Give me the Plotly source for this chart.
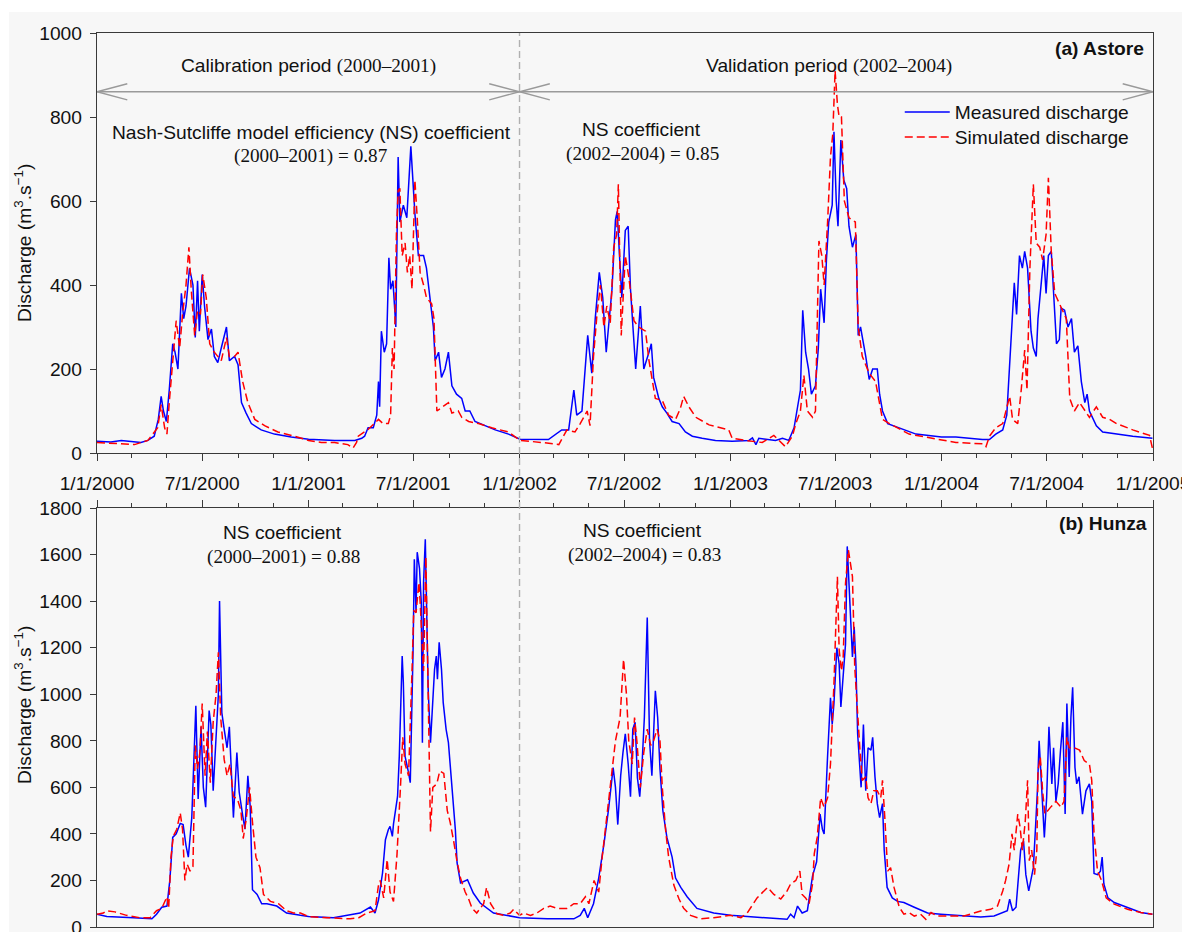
import pandas as pd
import plotly.graph_objects as go

# ---------------- data (day offset from 1/1/2000, discharge m3/s) ----------------
astore_measured = [
    (0, 28), (24, 26), (42, 30), (65, 27), (76, 25), (88, 30), (99, 40), (106, 80), (111, 135), (115, 100),
    (120, 75), (125, 150), (131, 260), (135, 240), (140, 200), (146, 380), (150, 320), (154, 350), (160, 440),
    (166, 400), (170, 275), (174, 410), (177, 290), (182, 425), (186, 350), (192, 270), (198, 295), (203, 230),
    (209, 215), (215, 250), (224, 300), (229, 220), (238, 230), (244, 210), (250, 120), (258, 95), (267, 70),
    (284, 55), (307, 45), (336, 38), (366, 33), (411, 30), (446, 30), (458, 35), (463, 40), (469, 60), (478, 60),
    (484, 90), (487, 170), (489, 110), (492, 290), (497, 240), (501, 260), (505, 465), (508, 390), (512, 410),
    (517, 300), (521, 705), (524, 550), (530, 590), (536, 560), (543, 730), (550, 570), (556, 470), (565, 470),
    (570, 440), (576, 370), (582, 300), (585, 220), (591, 240), (596, 180), (602, 200), (608, 240), (614, 160),
    (622, 140), (631, 130), (637, 100), (645, 100), (654, 75), (671, 65), (689, 55), (712, 45), (732, 33),
    (781, 32), (793, 45), (804, 55), (816, 55), (825, 150), (830, 90), (839, 100), (849, 280), (856, 190),
    (862, 320), (869, 430), (875, 370), (881, 240), (885, 300), (891, 390), (897, 555), (900, 575), (904, 470),
    (908, 370), (914, 530), (919, 540), (923, 390), (932, 200), (940, 350), (946, 200), (955, 240), (959, 260),
    (963, 180), (972, 130), (978, 110), (986, 95), (995, 75), (1007, 70), (1018, 50), (1030, 40), (1047, 35),
    (1070, 30), (1099, 28), (1128, 30), (1134, 36), (1140, 20), (1145, 35), (1174, 30), (1186, 35), (1197, 30),
    (1206, 60), (1212, 110), (1217, 150), (1221, 340), (1226, 240), (1231, 200), (1236, 140), (1243, 160),
    (1248, 250), (1252, 390), (1258, 310), (1262, 460), (1266, 550), (1272, 590), (1275, 765), (1279, 600),
    (1282, 540), (1287, 745), (1292, 650), (1297, 630), (1301, 540), (1307, 490), (1313, 520), (1317, 280),
    (1321, 300), (1330, 230), (1336, 175), (1342, 200), (1350, 200), (1354, 140), (1359, 100), (1368, 70),
    (1388, 60), (1417, 45), (1461, 38), (1486, 38), (1532, 32), (1544, 32), (1555, 45), (1567, 55), (1574, 90),
    (1579, 220), (1583, 300), (1587, 405), (1591, 330), (1596, 470), (1601, 440), (1605, 480), (1610, 440),
    (1616, 290), (1620, 250), (1625, 230), (1628, 320), (1634, 420), (1638, 470), (1642, 380), (1646, 470),
    (1651, 480), (1657, 350), (1660, 260), (1665, 270), (1668, 345), (1674, 340), (1680, 300), (1686, 320),
    (1691, 240), (1697, 255), (1703, 170), (1709, 120), (1713, 140), (1717, 100), (1729, 65), (1740, 50),
    (1764, 45), (1792, 40), (1826, 35),
]

astore_simulated = [
    (0, 25), (42, 22), (65, 20), (76, 25), (88, 30), (105, 60), (111, 115), (117, 60), (121, 45), (125, 120),
    (131, 220), (137, 315), (143, 250), (148, 330), (154, 400), (159, 490), (163, 390), (169, 280), (174, 340),
    (179, 330), (183, 425), (189, 370), (195, 260), (203, 240), (215, 220), (224, 275), (229, 230), (238, 230),
    (244, 240), (252, 170), (261, 120), (273, 80), (290, 65), (313, 50), (342, 40), (366, 30), (388, 25),
    (411, 25), (434, 20), (443, 12), (449, 25), (452, 40), (469, 56), (487, 80), (495, 70), (504, 70), (508, 90),
    (511, 250), (514, 200), (518, 520), (521, 625), (524, 630), (528, 470), (533, 500), (537, 430), (541, 470),
    (545, 390), (550, 650), (554, 560), (559, 430), (565, 400), (570, 370), (579, 355), (583, 320), (588, 100),
    (593, 105), (602, 115), (608, 120), (614, 95), (625, 100), (631, 85), (643, 75), (660, 70), (683, 60),
    (712, 50), (732, 30), (770, 25), (799, 20), (813, 55), (827, 50), (836, 70), (848, 100), (853, 65),
    (859, 230), (865, 330), (871, 400), (877, 300), (882, 350), (888, 310), (894, 490), (899, 520), (902, 640),
    (907, 280), (914, 470), (920, 420), (929, 315), (937, 300), (949, 290), (955, 220), (960, 180), (966, 130),
    (978, 125), (989, 90), (1001, 80), (1009, 105), (1015, 135), (1024, 110), (1036, 85), (1059, 67),
    (1093, 55), (1099, 35), (1122, 30), (1151, 25), (1171, 42), (1186, 20), (1191, 15), (1203, 40), (1209, 70),
    (1217, 100), (1223, 185), (1229, 100), (1238, 85), (1243, 100), (1249, 505), (1254, 470), (1258, 400),
    (1264, 550), (1269, 705), (1273, 760), (1277, 910), (1281, 830), (1284, 800), (1288, 800), (1293, 600),
    (1301, 560), (1312, 550), (1317, 300), (1324, 230), (1336, 190), (1347, 170), (1359, 80), (1371, 70),
    (1405, 45), (1461, 30), (1486, 25), (1532, 22), (1538, 15), (1544, 40), (1555, 60), (1567, 70), (1579, 135),
    (1584, 80), (1593, 70), (1599, 150), (1605, 245), (1609, 150), (1614, 440), (1620, 640), (1625, 500),
    (1631, 490), (1636, 460), (1642, 520), (1646, 655), (1651, 480), (1657, 380), (1662, 365), (1677, 320),
    (1683, 130), (1691, 100), (1700, 120), (1709, 100), (1717, 85), (1729, 110), (1740, 85), (1752, 80),
    (1764, 70), (1792, 55), (1821, 42), (1827, 5),
]

hunza_measured = [
    (0, 55), (17, 45), (63, 40), (95, 35), (103, 55), (112, 85), (121, 90), (126, 200), (131, 385), (137, 400),
    (144, 445), (149, 440), (154, 350), (158, 300), (164, 470), (168, 800), (171, 950), (175, 550), (180, 860),
    (184, 600), (188, 515), (194, 930), (197, 870), (201, 585), (206, 850), (210, 1000), (212, 1400), (216, 920),
    (220, 850), (225, 770), (229, 860), (233, 650), (236, 470), (242, 750), (246, 580), (252, 480), (256, 420),
    (261, 650), (265, 520), (269, 160), (277, 140), (285, 100), (294, 100), (311, 90), (328, 60), (352, 50),
    (366, 45), (409, 40), (455, 60), (473, 86), (481, 60), (487, 116), (494, 232), (499, 375), (504, 418),
    (507, 432), (511, 389), (513, 443), (520, 561), (523, 733), (528, 1164), (530, 1050), (533, 733), (539, 663),
    (542, 620), (547, 1207), (549, 1580), (552, 1352), (554, 1610), (558, 1540), (561, 1395), (563, 792),
    (565, 1481), (568, 1666), (571, 1352), (573, 1020), (577, 792), (582, 1020), (584, 1107), (587, 1164),
    (589, 1064), (592, 1223), (596, 1107), (599, 964), (604, 849), (608, 792), (611, 706), (617, 534),
    (620, 418), (623, 275), (629, 189), (641, 203), (651, 146), (663, 103), (686, 60), (731, 40), (779, 35),
    (825, 35), (836, 50), (843, 80), (849, 40), (859, 100), (868, 210), (877, 355), (885, 505), (893, 685),
    (897, 600), (901, 440), (906, 650), (910, 750), (914, 830), (919, 700), (923, 560), (927, 850), (931, 880),
    (935, 640), (939, 560), (943, 700), (947, 900), (952, 1330), (956, 800), (960, 650), (966, 1015), (970, 900),
    (974, 680), (979, 500), (986, 385), (995, 300), (1001, 210), (1010, 170), (1021, 130), (1038, 80),
    (1067, 60), (1096, 50), (1125, 45), (1154, 40), (1183, 35), (1194, 33), (1200, 55), (1206, 40), (1212, 90),
    (1220, 60), (1229, 70), (1238, 220), (1245, 280), (1251, 485), (1255, 420), (1258, 400), (1264, 735),
    (1269, 985), (1272, 870), (1275, 960), (1280, 1200), (1284, 1130), (1287, 945), (1291, 1100), (1295, 1215),
    (1298, 1635), (1301, 1475), (1304, 1300), (1307, 1160), (1310, 1290), (1313, 1130), (1316, 830), (1320, 670),
    (1322, 600), (1326, 870), (1330, 585), (1334, 770), (1339, 760), (1342, 815), (1346, 645), (1350, 530),
    (1354, 470), (1359, 530), (1362, 330), (1367, 170), (1376, 125), (1385, 110), (1396, 105), (1414, 85),
    (1437, 60), (1460, 55), (1500, 47), (1529, 43), (1552, 47), (1564, 60), (1575, 70), (1579, 120), (1584, 70),
    (1590, 85), (1594, 210), (1598, 330), (1603, 370), (1607, 225), (1612, 155), (1616, 210), (1620, 255),
    (1624, 440), (1627, 585), (1630, 800), (1634, 615), (1639, 385), (1643, 555), (1647, 860), (1652, 615),
    (1655, 770), (1659, 540), (1663, 615), (1667, 760), (1671, 880), (1675, 485), (1678, 960), (1682, 645),
    (1685, 900), (1688, 1030), (1692, 685), (1695, 615), (1699, 645), (1705, 485), (1711, 585), (1717, 615),
    (1721, 540), (1725, 230), (1731, 225), (1736, 240), (1739, 300), (1742, 185), (1749, 125), (1760, 105),
    (1783, 85), (1806, 62), (1826, 55),
]

hunza_simulated = [
    (0, 55), (11, 60), (17, 70), (31, 65), (51, 50), (74, 40), (92, 40), (103, 70), (112, 80), (121, 130),
    (124, 80), (128, 300), (132, 390), (138, 420), (144, 490), (148, 420), (152, 200), (156, 270), (161, 240),
    (166, 260), (170, 780), (174, 680), (178, 750), (182, 960), (187, 650), (191, 840), (196, 620), (201, 880),
    (206, 1000), (210, 1180), (214, 900), (220, 720), (225, 650), (230, 700), (236, 560), (243, 550), (249, 500),
    (253, 380), (258, 460), (264, 600), (269, 450), (275, 300), (282, 255), (288, 140), (300, 110), (314, 100),
    (328, 70), (340, 60), (352, 60), (366, 45), (398, 40), (438, 35), (453, 40), (467, 60), (481, 70), (487, 180),
    (490, 200), (496, 125), (502, 290), (507, 150), (513, 110), (519, 310), (525, 600), (529, 815), (533, 700),
    (539, 650), (545, 1100), (548, 1360), (552, 1350), (557, 1480), (559, 1400), (565, 1100), (569, 1590),
    (572, 1100), (577, 410), (581, 600), (588, 615), (593, 670), (600, 660), (606, 500), (611, 450), (617, 370),
    (623, 280), (629, 210), (637, 150), (643, 120), (649, 80), (657, 60), (669, 100), (674, 170), (681, 100),
    (692, 57), (704, 50), (715, 60), (721, 76), (731, 50), (738, 60), (750, 50), (761, 60), (773, 80), (784, 90),
    (796, 80), (813, 80), (825, 100), (836, 100), (845, 130), (851, 100), (860, 200), (868, 150), (874, 300),
    (883, 500), (891, 650), (897, 800), (905, 900), (911, 1150), (916, 1000), (920, 800), (926, 700), (930, 900),
    (934, 800), (940, 600), (946, 750), (952, 850), (958, 780), (963, 800), (969, 850), (974, 800), (978, 600),
    (984, 410), (989, 300), (998, 180), (1007, 120), (1015, 80), (1027, 50), (1044, 35), (1067, 40), (1096, 50),
    (1114, 40), (1125, 60), (1142, 125), (1160, 170), (1171, 140), (1183, 120), (1194, 155), (1200, 185),
    (1209, 200), (1216, 240), (1220, 140), (1226, 125), (1232, 100), (1238, 185), (1241, 315), (1246, 385),
    (1252, 555), (1258, 515), (1264, 555), (1269, 700), (1275, 1045), (1278, 1330), (1281, 1505), (1284, 1190),
    (1288, 1100), (1291, 1160), (1295, 1475), (1300, 1620), (1304, 1560), (1307, 1505), (1311, 1115),
    (1316, 900), (1320, 760), (1324, 630), (1330, 645), (1334, 555), (1339, 530), (1344, 585), (1350, 585),
    (1356, 555), (1359, 630), (1363, 470), (1368, 240), (1373, 255), (1379, 170), (1388, 85), (1396, 55),
    (1405, 62), (1414, 47), (1425, 55), (1434, 33), (1443, 62), (1454, 47), (1500, 47), (1529, 69), (1546, 76),
    (1558, 90), (1567, 155), (1572, 200), (1578, 270), (1583, 400), (1587, 330), (1593, 485), (1597, 430),
    (1601, 330), (1606, 455), (1610, 630), (1613, 285), (1617, 330), (1622, 225), (1626, 330), (1628, 670),
    (1632, 730), (1636, 585), (1640, 485), (1650, 515), (1659, 540), (1668, 515), (1673, 540), (1678, 815),
    (1682, 770), (1691, 770), (1700, 760), (1708, 715), (1717, 700), (1721, 630), (1725, 400), (1731, 240),
    (1738, 200), (1746, 125), (1760, 98), (1783, 76), (1806, 62), (1826, 55),
]

START = pd.Timestamp("2000-01-01")
SPLIT = "2002-01-01"
END = "2005-01-01"
period_arrow_level = 860


def series(pairs):
    days = [p[0] for p in pairs]
    q = [p[1] for p in pairs]
    dates = START + pd.to_timedelta(days, unit="D")
    return dates, q


# ---------------- figure geometry ----------------
# The photographed page comes out ~1.1% smaller than laid out, so the figure is laid out
# slightly larger (K) so that the photographed result lines up with the 1182x932 target.
K = 1.0 / 0.989
TW, TH = 1182, 932                  # target picture size
W, H = round(TW * K), round(TH * K)
L, T = 96 * K, 33 * K
R = W - 1151 * K
B = H - 927 * K
PW, PH = W - L - R, H - T - B


def fx(px):
    """target picture x pixel -> paper fraction"""
    return (px * K - L) / PW


def fy(py):
    """target picture y pixel -> paper fraction"""
    return (H - B - py * K) / PH


def s(v):
    return v * K


top_dom = [fy(453), 1.0]
bot_dom = [0.0, fy(508)]

SANS = "Liberation Sans, Arial, sans-serif"
SERIF = "Liberation Serif"
AXC = "#3a3a3a"
TXT = "#111111"
BLUE = "#0000ff"
RED = "#ff0000"
DASH = "8px,4px"
BG = "#f7f7f7"
FS = s(19)

fig = go.Figure()

d, q = series(astore_measured)
fig.add_trace(go.Scatter(x=d, y=q, mode="lines", name="Measured discharge", legend="legend",
                         line=dict(color=BLUE, width=1.5), xaxis="x", yaxis="y"))
d, q = series(astore_simulated)
fig.add_trace(go.Scatter(x=d, y=q, mode="lines", name="Simulated discharge", legend="legend2",
                         line=dict(color=RED, width=1.5, dash=DASH), xaxis="x", yaxis="y"))
d, q = series(hunza_measured)
fig.add_trace(go.Scatter(x=d, y=q, mode="lines", name="Measured discharge", showlegend=False,
                         line=dict(color=BLUE, width=1.5), xaxis="x2", yaxis="y2"))
d, q = series(hunza_simulated)
fig.add_trace(go.Scatter(x=d, y=q, mode="lines", name="Simulated discharge", showlegend=False,
                         line=dict(color=RED, width=1.5, dash=DASH), xaxis="x2", yaxis="y2"))

xcommon = dict(
    type="date", range=["2000-01-01", END], dtick="M6", tick0="2000-01-01",
    tickformat="%-m/%-d/%Y", ticks="outside", ticklen=s(7), tickwidth=1, tickcolor=AXC,
    showline=True, linecolor=AXC, linewidth=1.2, mirror=True, showgrid=False, zeroline=False,
    ticklabeloverflow="allow",
    tickfont=dict(family=SANS, size=FS, color=TXT),
    minor=dict(dtick="M2", tick0="2000-01-01", ticks="outside", ticklen=s(4), tickcolor=AXC, showgrid=False),
)
ycommon = dict(
    ticks="outside", ticklen=s(6), tickwidth=1, tickcolor=AXC, showline=True, linecolor=AXC,
    linewidth=1.2, mirror=True, showgrid=False, zeroline=False, ticklabelstandoff=round(s(4)),
    ticklabeloverflow="allow",
    tickfont=dict(family=SANS, size=FS, color=TXT),
)

legend_common = dict(xanchor="left", yanchor="top", bgcolor="rgba(0,0,0,0)",
                     font=dict(family=SANS, size=FS, color=TXT), itemwidth=45, tracegroupgap=0)

fig.update_layout(
    width=W, height=H,
    margin=dict(l=L, r=R, t=T, b=B, pad=0),
    paper_bgcolor=BG, plot_bgcolor=BG,
    xaxis=dict(xcommon, domain=[0, 1], anchor="y", ticklabelstandoff=round(s(6))),
    xaxis2=dict(xcommon, domain=[0, 1], anchor="y2", side="top", showticklabels=False, matches="x"),
    yaxis=dict(ycommon, domain=top_dom, range=[0, 1000], dtick=200, anchor="x"),
    yaxis2=dict(ycommon, domain=bot_dom, range=[0, 1800], dtick=200, anchor="x2"),
    showlegend=True,
    legend=dict(legend_common, x=fx(898), y=fy(93)),
    legend2=dict(legend_common, x=fx(898), y=fy(118)),
)

shapes = []
# white page strips above / left of the grey panel
shapes.append(dict(type="rect", xref="paper", yref="paper", x0=-0.2, x1=1.2,
                   y0=fy(12), y1=1.2, fillcolor="white", line=dict(width=0), layer="below"))
shapes.append(dict(type="rect", xref="paper", yref="paper", x0=-0.2, x1=fx(8),
                   y0=-0.2, y1=1.2, fillcolor="white", line=dict(width=0), layer="below"))
# split line between calibration and validation
shapes.append(dict(type="line", xref="x", yref="paper", x0=SPLIT, x1=SPLIT, y0=0, y1=1,
                   line=dict(color="#b0b0b0", width=1.4, dash="7px,4px")))
# period arrows
ARC = "#9a9a9a"
for a, b in [("2000-01-01", SPLIT), (SPLIT, END)]:
    shapes.append(dict(type="line", xref="x", yref="y", x0=a, x1=b,
                       y0=period_arrow_level, y1=period_arrow_level, line=dict(color=ARC, width=1.4)))
hl, hw = s(30), s(8)
for anchor, sign in [("2000-01-01", 1), (SPLIT, -1), (SPLIT, 1), (END, -1)]:
    path = f"M{sign * hl:.1f},{hw:.1f} L0,0 L{sign * hl:.1f},{-hw:.1f}"
    shapes.append(dict(type="path", xref="x", yref="y", xsizemode="pixel", ysizemode="pixel",
                       xanchor=anchor, yanchor=period_arrow_level, path=path,
                       line=dict(color=ARC, width=1.4)))
fig.update_layout(shapes=shapes)


def ann(text, px, py, xanchor="center", bold=False, angle=0):
    t = f"<b>{text}</b>" if bold else text
    return dict(text=t, x=fx(px), y=fy(py), xref="paper", yref="paper", xanchor=xanchor,
                yanchor="middle", showarrow=False, textangle=angle,
                font=dict(family=SANS, size=FS, color=TXT))


def serif(txt):
    return f"<span style='font-family:{SERIF}'>{txt}</span>"


anns = [
    ann("Calibration period " + serif("(2000–2001)"), 307, 66),
    ann("Validation period " + serif("(2002–2004)"), 827, 66),
    ann("Nash-Sutcliffe model efficiency (NS) coefficient", 310, 132),
    ann(serif("(2000–2001) = 0.87"), 310, 156),
    ann("NS coefficient", 640, 130),
    ann(serif("(2002–2004) = 0.85"), 641, 154),
    ann("(a) Astore", 1144, 48, xanchor="right", bold=True),
    ann("NS coefficient", 281, 532),
    ann(serif("(2000–2001) = 0.88"), 282, 557),
    ann("NS coefficient", 641, 530),
    ann(serif("(2002–2004) = 0.83"), 643, 555),
    ann("(b) Hunza", 1147, 523, xanchor="right", bold=True),
    ann("Discharge (m<sup>3</sup>.s<sup>−1</sup>)", 22, 243, angle=-90),
    ann("Discharge (m<sup>3</sup>.s<sup>−1</sup>)", 22, 705, angle=-90),
]
fig.update_layout(annotations=anns)

fig.write_html(
    "out.html",
    config={"displayModeBar": False},
    post_script=("document.body.style.margin='0';document.documentElement.style.margin='0';"
                 "document.body.style.overflow='hidden';document.documentElement.style.overflow='hidden';"),
)
